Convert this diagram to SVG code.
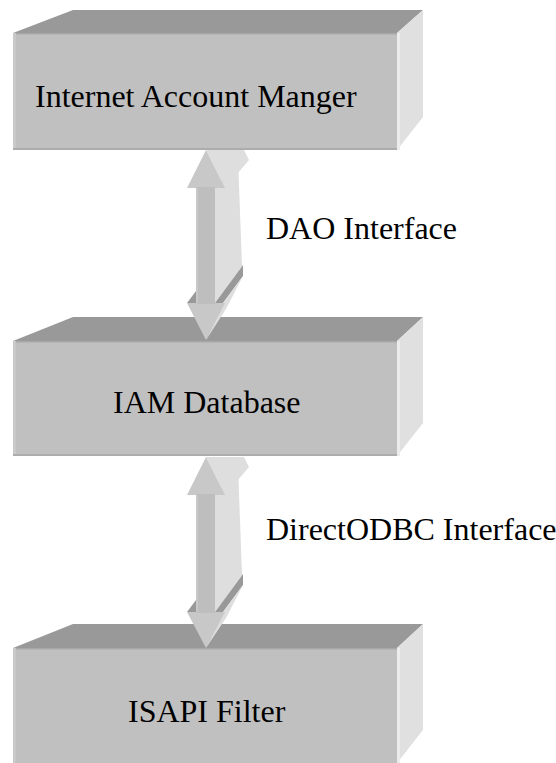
<svg xmlns="http://www.w3.org/2000/svg" width="556" height="763" viewBox="0 0 556 763">
<style>
.top{fill:#999999}
.front{fill:#c0c0c0}
.fl{fill:#c9c9c9}
.fb{fill:#acacac}
.ft{fill:#a8a8a8}
.side{fill:#e0e0e0}
.sl{fill:#ececec}
.al{fill:#dedede}
.ad{fill:#999999}
.af{fill:#c8c8c8}
.as{fill:#bebebe}
.lbl{font-family:"Liberation Serif","Times New Roman",serif;font-size:32px;fill:#000}
</style>
<rect width="556" height="763" fill="#ffffff"/>
<g id="box1">
  <polygon class="top" points="13,33 73,10 423,10 397,33"/>
  <rect class="front" x="13" y="33" width="384" height="117"/>
  <rect class="ft" x="13" y="33" width="384" height="1.5"/>
  <rect class="fl" x="13" y="33" width="3" height="117"/>
  <rect class="fb" x="13" y="148" width="384" height="2"/>
  <polygon class="side" points="397,33 423,10 423,117 397,150"/>
  <rect class="sl" x="397" y="33" width="3" height="117"/>
  <text class="lbl" x="35" y="107">Internet Account Manger</text>
</g>
<g id="box2">
  <polygon class="top" points="13,341 73,317 423,317 397,341"/>
  <rect class="front" x="13" y="341" width="384" height="115"/>
  <rect class="ft" x="13" y="341" width="384" height="1.5"/>
  <rect class="fl" x="13" y="341" width="3" height="115"/>
  <rect class="fb" x="13" y="454" width="384" height="2"/>
  <polygon class="side" points="397,341 423,317 423,423 397,456"/>
  <rect class="sl" x="397" y="341" width="3" height="115"/>
  <text class="lbl" x="113" y="413">IAM Database</text>
</g>
<g id="box3">
  <polygon class="top" points="13,648 73,624 423,624 397,648"/>
  <rect class="front" x="13" y="648" width="384" height="115"/>
  <rect class="ft" x="13" y="648" width="384" height="1.5"/>
  <rect class="fl" x="13" y="648" width="3" height="115"/>
  <polygon class="side" points="397,648 423,624 423,730 397,763"/>
  <rect class="sl" x="397" y="648" width="3" height="115"/>
  <text class="lbl" x="128" y="722">ISAPI Filter</text>
</g>
<g id="connectors">
  <g id="arrow-dao">
    <polygon class="al" points="206,150 244,150 249,160 225,188"/>
    <polygon class="al" points="215,188 238,158 242,266 215,303"/>
    <polygon class="ad" points="187,303 196,303 196,291"/>
    <polygon class="ad" points="215,303 223,303 243,276 243,265"/>
    <polygon class="al" points="223,303 243,276 226,309 206,340"/>
    <path class="af" d="M206,150 L225,188 L187,188 Z M187,303 L225,303 L206,340 Z"/>
    <rect class="as" x="196" y="187" width="19" height="117"/>
    <rect class="af" x="196" y="188" width="2" height="115"/>
    <text class="lbl" x="266" y="239">DAO Interface</text>
  </g>
  <g id="arrow-odbc">
    <polygon class="al" points="206,457 244,457 249,467 225,495"/>
    <polygon class="al" points="215,495 238,465 242,575 215,612"/>
    <polygon class="ad" points="187,612 196,612 196,600"/>
    <polygon class="ad" points="215,612 223,612 243,585 243,574"/>
    <polygon class="al" points="223,612 243,585 226,618 206,648"/>
    <path class="af" d="M206,457 L225,495 L187,495 Z M187,612 L225,612 L206,648 Z"/>
    <rect class="as" x="196" y="494" width="19" height="119"/>
    <rect class="af" x="196" y="495" width="2" height="117"/>
    <text class="lbl" x="266" y="540">DirectODBC Interface</text>
  </g>
</g>
</svg>
